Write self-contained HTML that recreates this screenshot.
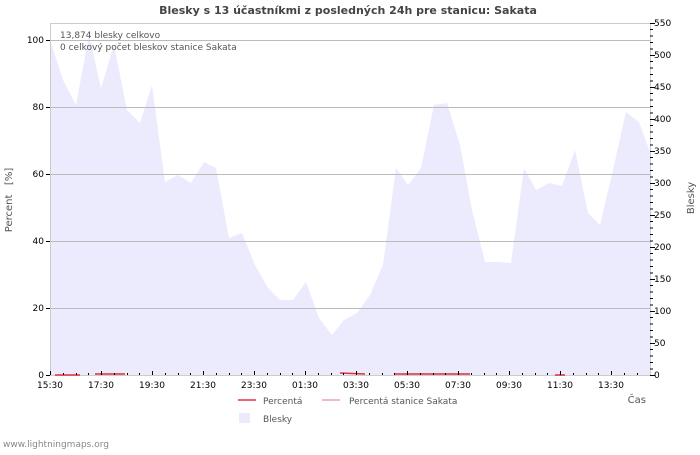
<!DOCTYPE html>
<html><head><meta charset="utf-8"><style>body{margin:0;background:#fff}svg{font-family:"DejaVu Sans","Liberation Sans",sans-serif}</style></head><body>
<svg width="700" height="450" viewBox="0 0 700 450">
<rect width="700" height="450" fill="#fff"/>
<text x="348" y="14" text-anchor="middle" font-size="11" font-weight="bold" fill="#444">Blesky s 13 účastníkmi z posledných 24h pre stanicu: Sakata</text>
<polygon fill="#ebebfd" points="50,375 50,40 63,80 76,105 89,35 101,88 114,45 127,110 140,123 152,85 165,182 178,175 191,183 204,162 216,168 229,238 242,233 255,265 268,288 280,300 293,300 306,282 319,318 332,335 344,320 357,313 370,295 383,265 396,168 408,185 421,168 434,105 447,103 460,145 472,210 485,262 498,262 511,263 524,168 536,190 549,183 562,186 575,150 588,213 600,225 613,170 626,112 639,122 651,155 651,375"/>
<g stroke="#bbb" stroke-width="1">
<line x1="50" y1="40.5" x2="650" y2="40.5"/><line x1="50" y1="107.5" x2="650" y2="107.5"/><line x1="50" y1="174.5" x2="650" y2="174.5"/><line x1="50" y1="241.5" x2="650" y2="241.5"/><line x1="50" y1="308.5" x2="650" y2="308.5"/>
</g>
<rect x="50.5" y="23.5" width="600" height="352" fill="none" stroke="#ccc"/>
<g stroke="#e03040" stroke-width="1.5"><line x1="55" y1="375" x2="80" y2="375"/><line x1="95" y1="374" x2="125" y2="374"/><line x1="340" y1="373" x2="365" y2="374"/><line x1="395" y1="374" x2="470" y2="374"/><line x1="555" y1="375" x2="565" y2="375"/></g>
<g font-size="9" fill="#000">
<text x="44" y="43" text-anchor="end">100</text><text x="44" y="110" text-anchor="end">80</text><text x="44" y="177" text-anchor="end">60</text><text x="44" y="244" text-anchor="end">40</text><text x="44" y="311" text-anchor="end">20</text><text x="44" y="378" text-anchor="end">0</text>
<g stroke="#000"><line x1="46" y1="40.5" x2="50" y2="40.5"/><line x1="46" y1="107.5" x2="50" y2="107.5"/><line x1="46" y1="174.5" x2="50" y2="174.5"/><line x1="46" y1="241.5" x2="50" y2="241.5"/><line x1="46" y1="308.5" x2="50" y2="308.5"/><line x1="46" y1="375.5" x2="50" y2="375.5"/></g>
<text x="654" y="378">0</text><text x="654" y="346">50</text><text x="654" y="314">100</text><text x="654" y="282">150</text><text x="654" y="250">200</text><text x="654" y="218">250</text><text x="654" y="186">300</text><text x="654" y="154">350</text><text x="654" y="122">400</text><text x="654" y="90">450</text><text x="654" y="58">500</text><text x="654" y="26">550</text>
<text x="50" y="388" text-anchor="middle">15:30</text><text x="101" y="388" text-anchor="middle">17:30</text><text x="152" y="388" text-anchor="middle">19:30</text><text x="203" y="388" text-anchor="middle">21:30</text><text x="254" y="388" text-anchor="middle">23:30</text><text x="305" y="388" text-anchor="middle">01:30</text><text x="356" y="388" text-anchor="middle">03:30</text><text x="407" y="388" text-anchor="middle">05:30</text><text x="458" y="388" text-anchor="middle">07:30</text><text x="509" y="388" text-anchor="middle">09:30</text><text x="560" y="388" text-anchor="middle">11:30</text><text x="611" y="388" text-anchor="middle">13:30</text>
</g>
<path stroke="#000" d="M650 375.5h5M650 343.5h5M650 311.5h5M650 279.5h5M650 247.5h5M650 215.5h5M650 183.5h5M650 151.5h5M650 119.5h5M650 87.5h5M650 55.5h5M650 23.5h5
M650 369h3M650 362.5h3M650 356h3M650 349.5h3M650 337h3M650 330.5h3M650 324h3M650 317.5h3M650 305h3M650 298.5h3M650 292h3M650 285.5h3M650 273h3M650 266.5h3M650 260h3M650 253.5h3M650 241h3M650 234.5h3M650 228h3M650 221.5h3M650 209h3M650 202.5h3M650 196h3M650 189.5h3M650 177h3M650 170.5h3M650 164h3M650 157.5h3M650 145h3M650 138.5h3M650 132h3M650 125.5h3M650 113h3M650 106.5h3M650 100h3M650 93.5h3M650 81h3M650 74.5h3M650 68h3M650 61.5h3M650 49h3M650 42.5h3M650 36h3M650 29.5h3
M50.5 375v-4M101.5 375v-4M152.5 375v-4M203.5 375v-4M254.5 375v-4M305.5 375v-4M356.5 375v-4M407.5 375v-4M458.5 375v-4M509.5 375v-4M560.5 375v-4M611.5 375v-4
M63.5 375v-2M76.5 375v-2M88.5 375v-2M114.5 375v-2M127.5 375v-2M139.5 375v-2M165.5 375v-2M178.5 375v-2M190.5 375v-2M216.5 375v-2M229.5 375v-2M241.5 375v-2M267.5 375v-2M280.5 375v-2M292.5 375v-2M318.5 375v-2M331.5 375v-2M343.5 375v-2M369.5 375v-2M382.5 375v-2M394.5 375v-2M420.5 375v-2M433.5 375v-2M445.5 375v-2M471.5 375v-2M484.5 375v-2M496.5 375v-2M522.5 375v-2M535.5 375v-2M547.5 375v-2M573.5 375v-2M586.5 375v-2M598.5 375v-2M624.5 375v-2M637.5 375v-2"/>
<text x="60" y="38" font-size="9" fill="#555">13,874 blesky celkovo</text>
<text x="60" y="50" font-size="9" fill="#555">0 celkový počet bleskov stanice Sakata</text>
<text transform="translate(12,200) rotate(-90)" text-anchor="middle" font-size="10" fill="#555" style="white-space:pre">Percent   [%]</text>
<text transform="translate(694,198) rotate(-90)" text-anchor="middle" font-size="10" fill="#555">Blesky</text>
<text x="646" y="403" text-anchor="end" font-size="10" fill="#555">Čas</text>
<line x1="238" y1="400" x2="256" y2="400" stroke="#e03040" stroke-width="1.5"/>
<text x="263" y="404" font-size="9" fill="#555">Percentá</text>
<line x1="322" y1="400" x2="340" y2="400" stroke="#f0a0a8" stroke-width="1.5"/>
<text x="349" y="404" font-size="9" fill="#555">Percentá stanice Sakata</text>
<rect x="239" y="413" width="11" height="10" fill="#ebebfd"/>
<text x="263" y="422" font-size="9" fill="#555">Blesky</text>
<text x="3" y="447" font-size="9" fill="#888">www.lightningmaps.org</text>
</svg>
</body></html>
